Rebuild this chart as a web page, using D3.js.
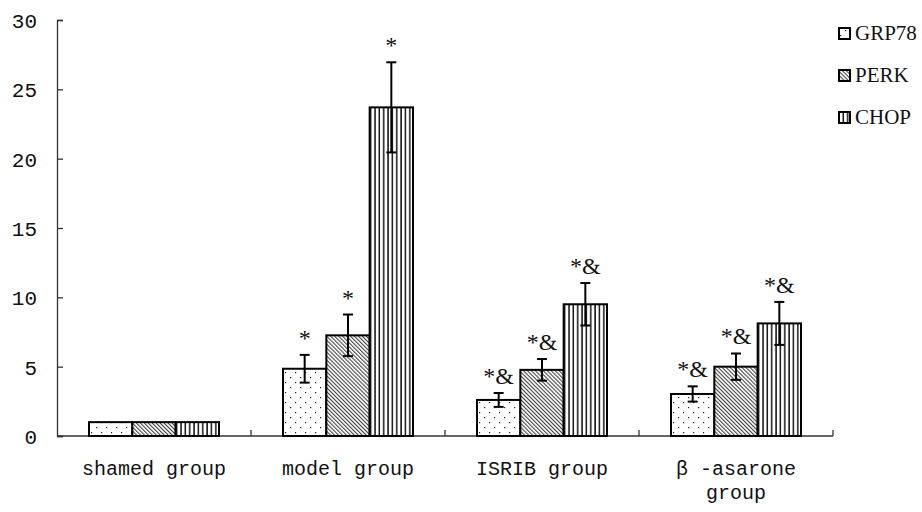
<!DOCTYPE html>
<html>
<head>
<meta charset="utf-8">
<script src="https://cdn.jsdelivr.net/npm/d3@7"></script>
<style>
  body { margin: 0; background: #fff; }
  svg { display: block; }
</style>
</head>
<body>
<div id="chart"></div>
<script>
// data
const groups = ["shamed group", "model group", "ISRIB group", "β -asarone group"];
const series = ["GRP78", "PERK", "CHOP"];
const grp78 = [1.0, 4.85, 2.6, 3.03];
const perk = [1.0, 7.26, 4.77, 5.0];
const chop = [1.0, 23.7, 9.5, 8.12];
const grp78Err = [0, 1.0, 0.5, 0.55];
const perkErr = [0, 1.5, 0.78, 0.95];
const chopErr = [0, 3.25, 1.53, 1.55];
const marks = [
  ["", "", ""],
  ["*", "*", "*"],
  ["*&", "*&", "*&"],
  ["*&", "*&", "*&"]
];
const yTicks = [0, 5, 10, 15, 20, 25, 30];

const values = [grp78, perk, chop];
const errs = [grp78Err, perkErr, chopErr];

const width = 922;
const height = 512;
const marginLeft = 57;
const marginRight = 89;
const marginTop = 20;
const marginBottom = 76;

const x0 = d3.scaleBand()
  .domain(groups)
  .range([marginLeft, width - marginRight]);

const x1 = d3.scaleBand()
  .domain(series)
  .range([32, 162]);

const y = d3.scaleLinear()
  .domain([0, 30])
  .range([height - marginBottom, marginTop]);

const svg = d3.select("#chart").append("svg")
  .attr("width", width)
  .attr("height", height);

// fill patterns
const defs = svg.append("defs");
const dots = defs.append("pattern")
  .attr("id", "p-dots")
  .attr("patternUnits", "userSpaceOnUse")
  .attr("width", 10).attr("height", 10);
dots.append("rect").attr("width", 10).attr("height", 10).attr("fill", "#fff");
dots.append("rect").attr("x", 2).attr("y", 2).attr("width", 1.2).attr("height", 1.2).attr("fill", "#222");
dots.append("rect").attr("x", 7).attr("y", 7).attr("width", 1.2).attr("height", 1.2).attr("fill", "#222");

const hatch = defs.append("pattern")
  .attr("id", "p-hatch")
  .attr("patternUnits", "userSpaceOnUse")
  .attr("width", 2.8).attr("height", 10)
  .attr("patternTransform", "rotate(-45)");
hatch.append("rect").attr("width", 2.8).attr("height", 10).attr("fill", "#fff");
hatch.append("line").attr("x1", 0.6).attr("x2", 0.6).attr("y1", 0).attr("y2", 10)
  .attr("stroke", "#111").attr("stroke-width", 0.9);

const vert = defs.append("pattern")
  .attr("id", "p-vert")
  .attr("patternUnits", "userSpaceOnUse")
  .attr("width", 4.35).attr("height", 10);
vert.append("rect").attr("width", 4.35).attr("height", 10).attr("fill", "#fff");
vert.append("line").attr("x1", 1).attr("x2", 1).attr("y1", 0).attr("y2", 10)
  .attr("stroke", "#000").attr("stroke-width", 1.4);

const fills = { GRP78: "url(#p-dots)", PERK: "url(#p-hatch)", CHOP: "url(#p-vert)" };

// axes
const yAxis = svg.append("g")
  .attr("transform", `translate(${marginLeft},0)`)
  .call(d3.axisRight(y).tickValues(yTicks).tickSize(6).tickSizeOuter(6));
yAxis.select(".domain").attr("stroke", "#333").attr("stroke-width", 1.3);
yAxis.selectAll(".tick line").attr("stroke", "#333").attr("stroke-width", 1.3);
yAxis.selectAll(".tick text")
  .attr("x", -20)
  .attr("text-anchor", "end")
  .attr("dy", "0.36em")
  .style("font-family", "Liberation Mono")
  .style("font-size", "21px")
  .attr("fill", "#111");

const xAxis = svg.append("g")
  .attr("transform", `translate(0,${height - marginBottom})`);
xAxis.append("line")
  .attr("x1", marginLeft).attr("x2", width - marginRight)
  .attr("stroke", "#333").attr("stroke-width", 1.3);
xAxis.selectAll(".sep")
  .data(groups)
  .join("line")
  .attr("class", "sep")
  .attr("x1", d => x0(d) + x0.bandwidth())
  .attr("x2", d => x0(d) + x0.bandwidth())
  .attr("y1", 0).attr("y2", -6)
  .attr("stroke", "#333").attr("stroke-width", 1.3);

// bars
const rows = [];
groups.forEach((g, gi) => {
  series.forEach((s, si) => {
    rows.push({ g, s, v: values[si][gi], e: errs[si][gi], m: marks[gi][si] });
  });
});

const bar = svg.append("g")
  .selectAll("g")
  .data(rows)
  .join("g")
  .attr("transform", d => `translate(${x0(d.g) + x1(d.s)},0)`);

bar.append("rect")
  .attr("x", 0)
  .attr("y", d => y(d.v))
  .attr("width", x1.bandwidth())
  .attr("height", d => y(0) - y(d.v))
  .attr("fill", d => fills[d.s])
  .attr("stroke", "#000")
  .attr("stroke-width", 2);

const cx = x1.bandwidth() / 2;
const eb = bar.filter(d => d.e > 0);
eb.append("line")
  .attr("x1", cx).attr("x2", cx)
  .attr("y1", d => y(d.v + d.e)).attr("y2", d => y(d.v - d.e))
  .attr("stroke", "#000").attr("stroke-width", 2);
eb.append("line")
  .attr("x1", cx - 5).attr("x2", cx + 5)
  .attr("y1", d => y(d.v + d.e)).attr("y2", d => y(d.v + d.e))
  .attr("stroke", "#000").attr("stroke-width", 2);
eb.append("line")
  .attr("x1", cx - 5).attr("x2", cx + 5)
  .attr("y1", d => y(d.v - d.e)).attr("y2", d => y(d.v - d.e))
  .attr("stroke", "#000").attr("stroke-width", 2);

bar.append("text")
  .attr("x", cx)
  .attr("y", d => y(d.v + d.e) - 9)
  .attr("text-anchor", "middle")
  .style("font-family", "Liberation Serif")
  .style("font-size", "24px")
  .attr("fill", "#111")
  .text(d => d.m);

// group labels
const labels = svg.append("g")
  .selectAll("text")
  .data(groups)
  .join("text")
  .attr("x", d => x0(d) + x0.bandwidth() / 2)
  .attr("y", height - marginBottom + 39)
  .attr("text-anchor", "middle")
  .style("font-family", "Liberation Mono")
  .style("font-size", "20px")
  .attr("fill", "#111");
labels.each(function (d) {
  const t = d3.select(this);
  const cx = x0(d) + x0.bandwidth() / 2;
  if (d.startsWith("β")) {
    t.append("tspan").attr("x", cx).text("β -asarone");
    t.append("tspan").attr("x", cx).attr("dy", 24).text("group");
  } else {
    t.text(d);
  }
});

// legend
const legend = svg.append("g")
  .selectAll("g")
  .data(series)
  .join("g")
  .attr("transform", (d, i) => `translate(838,${33 + i * 42})`);
legend.append("rect")
  .attr("x", 1).attr("y", -5)
  .attr("width", 11).attr("height", 11)
  .attr("fill", d => fills[d])
  .attr("stroke", "#000").attr("stroke-width", 2);
legend.append("text")
  .attr("x", 17)
  .attr("y", 0)
  .attr("dy", "0.35em")
  .style("font-family", "Liberation Serif")
  .style("font-size", "21px")
  .attr("fill", "#111")
  .text(d => d);
</script>
</body>
</html>
